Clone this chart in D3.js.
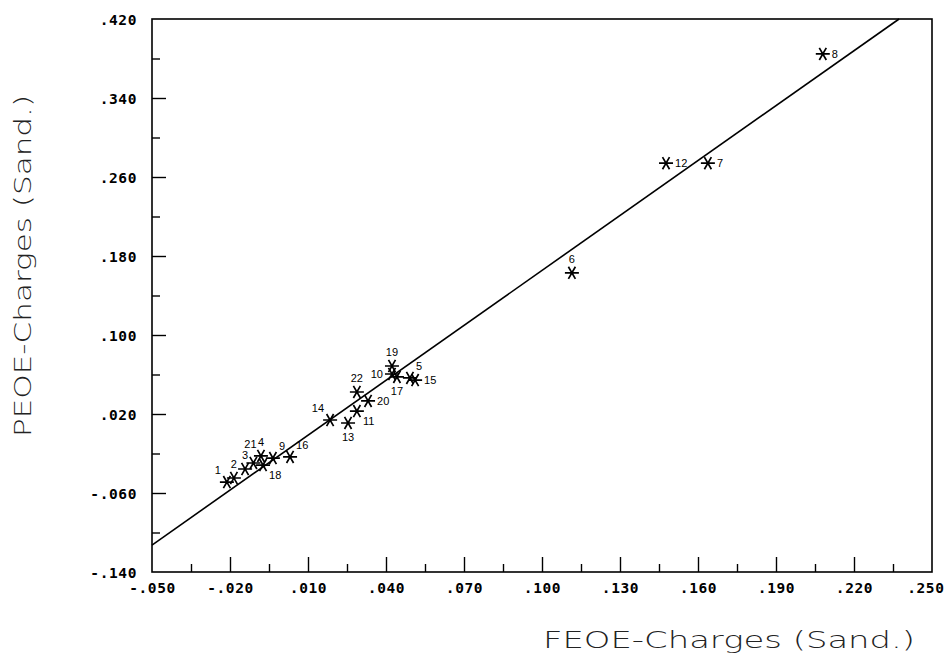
<!DOCTYPE html>
<html><head><meta charset="utf-8">
<script src="https://cdn.jsdelivr.net/npm/d3@7"></script>
<style>body{margin:0;background:#fff}svg{display:block}</style>
</head><body>
<svg id="c" width="946" height="659"></svg>
<script>
const ids = ["1","2","3","4","5","6","7","8","9","10","11","12","13","14","15","16","17","18","19","20","21","22"];
const feoe = [-0.0212,-0.0185,-0.0142,-0.0081,0.0492,0.1115,0.1638,0.2080,-0.0035,0.0423,0.0288,0.1477,0.0254,0.0185,0.0512,0.0031,0.0442,-0.0073,0.0423,0.0331,-0.0110,0.0288];
const peoe = [-0.0489,-0.0448,-0.0357,-0.0225,0.0565,0.1630,0.2740,0.3846,-0.0246,0.0605,0.0230,0.2740,0.0109,0.0139,0.0544,-0.0235,0.0575,-0.0317,0.0686,0.0332,-0.0296,0.0423];
const labelDir = ["nw","n","n","n","ne","n","e","e","ne","w","se","e","s","nw","e","ne","s","se","n","e","N","n"];
const xTicks = [-0.050,-0.035,-0.020,-0.005,0.010,0.025,0.040,0.055,0.070,0.085,0.100,0.115,0.130,0.145,0.160,0.175,0.190,0.205,0.220,0.235,0.250];
const xTickLabels = ["-.050","","-.020","",".010","",".040","",".070","",".100","",".130","",".160","",".190","",".220","",".250"];
const yTicks = [-0.14,-0.10,-0.06,-0.02,0.02,0.06,0.10,0.14,0.18,0.22,0.26,0.30,0.34,0.38,0.42];
const yTickLabels = ["-.140","","-.060","",".020","",".100","",".180","",".260","",".340","",".420"];
const fitIntercept = -0.020, fitSlope = 1.854;
const xTitle = "FEOE-Charges  (Sand.)", yTitle = "PEOE-Charges  (Sand.)";

const L=152,R=932,T=19,B=572;
const x = d3.scaleLinear().domain([-0.05,0.25]).range([L,R]);
const y = d3.scaleLinear().domain([-0.14,0.42]).range([B,T]);
const svg = d3.select("#c");

svg.append("rect").attr("x",L).attr("y",T).attr("width",R-L).attr("height",B-T)
  .attr("fill","none").attr("stroke","#000").attr("stroke-width",1.6);

const tickFont = "'DejaVu Sans Mono', monospace";
const xAxis = d3.axisBottom(x).tickValues(xTicks).tickSize(0).tickFormat((d,i)=>xTickLabels[i]);
const gx = svg.append("g").attr("transform",`translate(0,${B})`).call(xAxis);
gx.select(".domain").remove();
gx.selectAll(".tick").each(function(d,i){
  const major = xTickLabels[i] !== "";
  if (i>0 && i<xTicks.length-1)
    d3.select(this).append("line").attr("y1",0).attr("y2",major?-15:-8).attr("stroke","#000").attr("stroke-width",1.4);
});
gx.selectAll("text").attr("dy",0).attr("y",21)
  .attr("font-family",tickFont).attr("font-weight","bold")
  .attr("font-size",14.5).attr("fill","#000").attr("letter-spacing","0.6px");
gx.selectAll("text").filter((d,i)=>i===xTicks.length-1).attr("text-anchor","end").attr("x",12);

const yAxis = d3.axisLeft(y).tickValues(yTicks).tickSize(0).tickFormat((d,i)=>yTickLabels[i]);
const gy = svg.append("g").attr("transform",`translate(${L},0)`).call(yAxis);
gy.select(".domain").remove();
gy.selectAll(".tick").each(function(d,i){
  const major = yTickLabels[i] !== "";
  if (i>0 && i<yTicks.length-1)
    d3.select(this).append("line").attr("x1",0).attr("x2",major?14:8).attr("stroke","#000").attr("stroke-width",1.4);
});
gy.selectAll("text").attr("x",-15).attr("dy","0.35em")
  .attr("font-family",tickFont).attr("font-weight","bold")
  .attr("font-size",14.5).attr("fill","#000").attr("letter-spacing","0.6px");

const xEnd = Math.min(0.25,(0.42-fitIntercept)/fitSlope);
const lineData = [-0.05, xEnd];
svg.append("path").datum(lineData)
  .attr("d", d3.line().x(d=>x(d)).y(d=>y(fitIntercept+fitSlope*d)))
  .attr("stroke","#000").attr("stroke-width",1.6).attr("fill","none");

const pts = ids.map((id,i)=>({id, fx:feoe[i], py:peoe[i], dir:labelDir[i]}));
const star = (r)=>{
  let p="";
  [0,60,120].forEach(a=>{const t=a*Math.PI/180;
    p+=`M${-r*Math.cos(t)},${-r*Math.sin(t)}L${r*Math.cos(t)},${r*Math.sin(t)}`;});
  return p;
};
const g = svg.append("g");
g.selectAll("path.pt").data(pts).join("path").attr("class","pt")
  .attr("transform",d=>`translate(${x(d.fx)},${y(d.py)})`)
  .attr("d",star(7)).attr("stroke","#000").attr("stroke-width",1.7).attr("fill","none");
const off = {n:[0,-10,"middle"],N:[-3,-15,"middle"],s:[0,18,"middle"],e:[9,4,"start"],w:[-9,4,"end"],
  ne:[6,-8,"start"],nw:[-6,-8,"end"],se:[6,14,"start"],sw:[-6,14,"end"]};
g.selectAll("text.lb").data(pts).join("text").attr("class","lb")
  .attr("x",d=>x(d.fx)+off[d.dir][0]).attr("y",d=>y(d.py)+off[d.dir][1])
  .attr("text-anchor",d=>off[d.dir][2])
  .attr("font-family","'Liberation Sans', Arial, sans-serif").attr("font-size",11)
  .attr("fill","#000").text(d=>d.id);

const titleFont = "'DejaVu Sans', sans-serif";
svg.append("text").attr("x",543).attr("y",648).attr("textLength",372).attr("lengthAdjust","spacingAndGlyphs")
  .attr("font-family",titleFont).attr("font-size",23).attr("font-weight",200)
  .attr("fill","#222").text(xTitle);
svg.append("text").attr("transform","translate(31,437) rotate(-90)").attr("textLength",342).attr("lengthAdjust","spacingAndGlyphs")
  .attr("font-family",titleFont).attr("font-size",23).attr("font-weight",200)
  .attr("fill","#222").text(yTitle);
</script>
</body></html>
